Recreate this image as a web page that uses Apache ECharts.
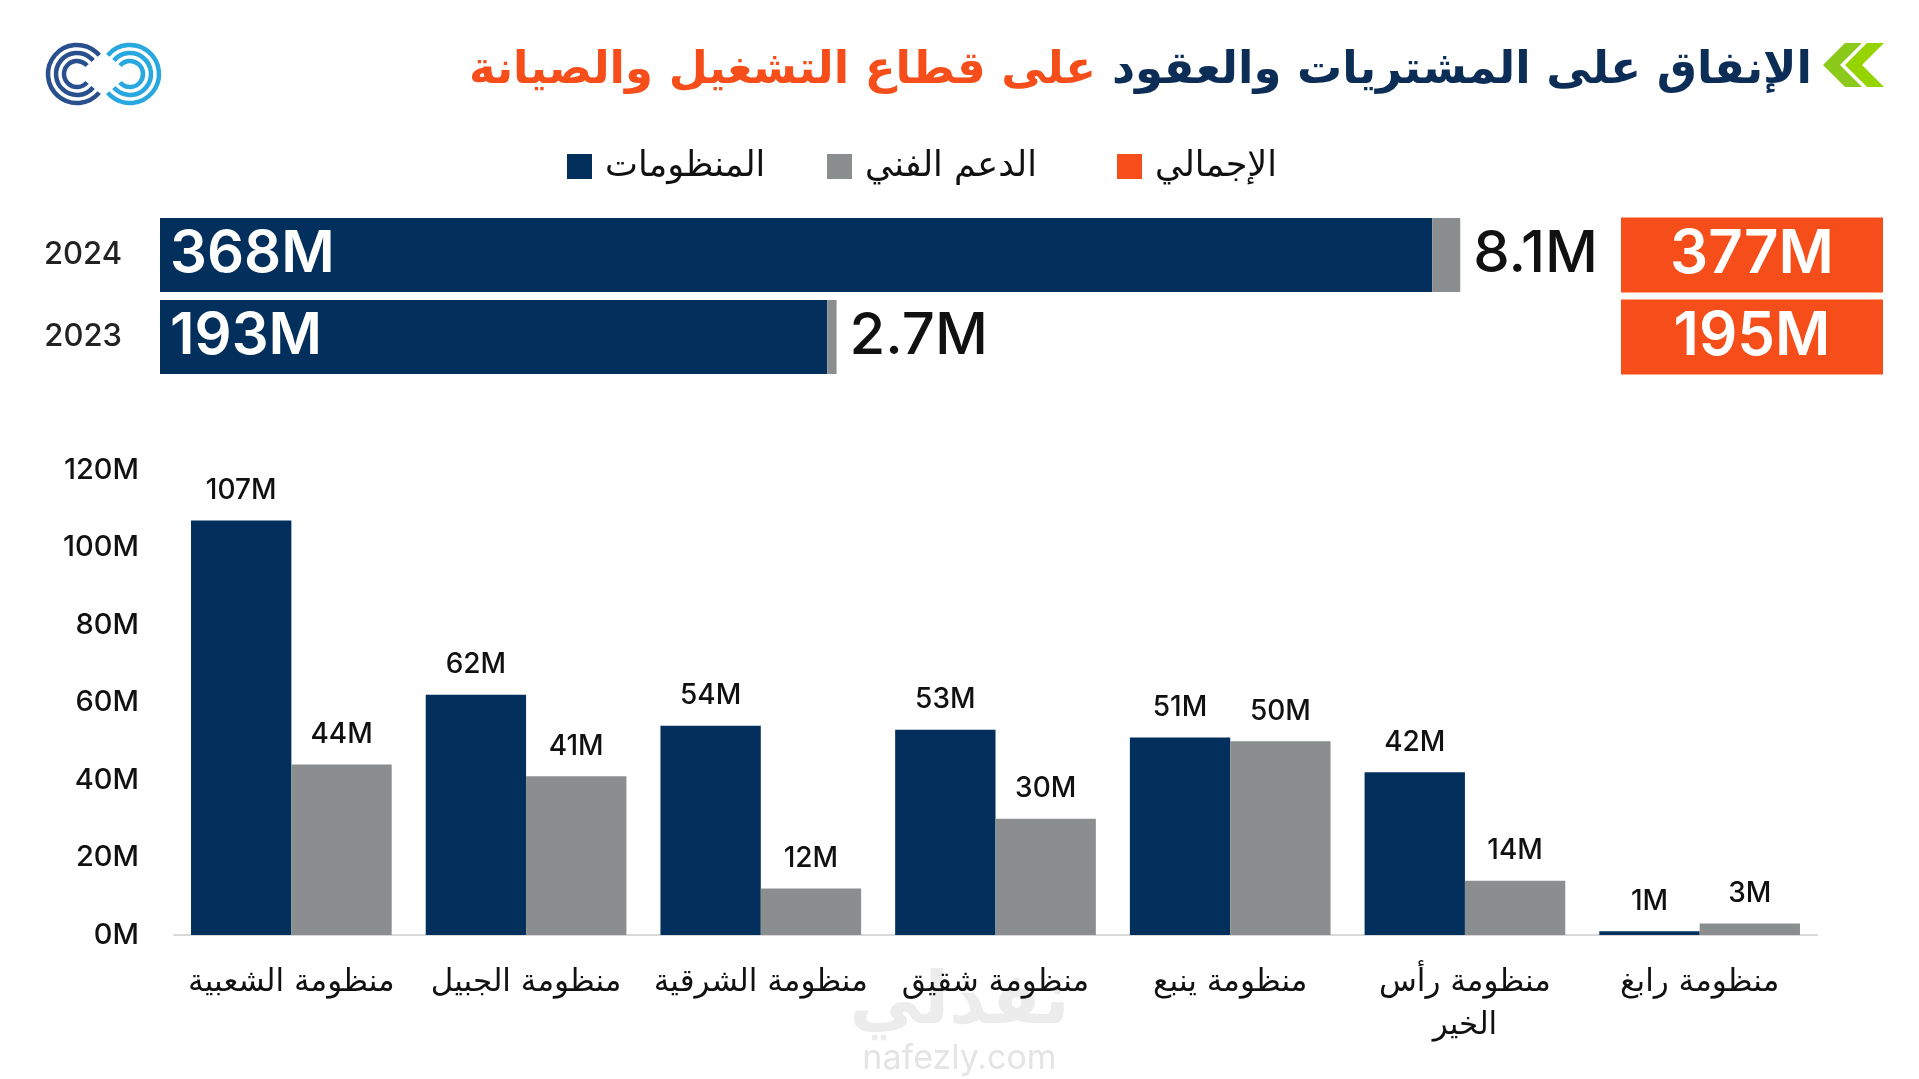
<!DOCTYPE html>
<html><head><meta charset="utf-8">
<script src="https://cdn.jsdelivr.net/npm/echarts@6/dist/echarts.min.js"></script>
<style>html,body{margin:0;padding:0;background:#fff}#c{width:1919px;height:1079px}</style>
</head><body><div id="c"></div>
<script>
// ---- data ----
const years = ['2024', '2023'];
const topSystems = [368, 193];      // المنظومات
const topSupport = [8.1, 2.7];      // الدعم الفني
const topTotals = [377, 195];       // الإجمالي
const categories = ['منظومة الشعبية', 'منظومة الجبيل', 'منظومة الشرقية', 'منظومة شقيق', 'منظومة ينبع', 'منظومة رأس الخير', 'منظومة رابغ'];
const sysValues = [107, 62, 54, 53, 51, 42, 1];
const supValues = [44, 41, 12, 30, 50, 14, 3];
const yTicks = [0, 20, 40, 60, 80, 100, 120];
const titleNavy = 'الإنفاق على المشتريات والعقود';
const titleOrange = 'على قطاع التشغيل والصيانة';
const legendNames = ['المنظومات', 'الدعم الفني', 'الإجمالي'];

const NAVY = '#022f5b', GREY = '#8b8e8f', ORANGE = '#f54e1b';
const NUM = 'Inter, "DejaVu Sans", sans-serif';
const AR = '"DejaVu Sans", sans-serif';

const chart = echarts.init(document.getElementById('c'), null, {renderer: 'canvas'});
const fmtM = p => p.value + 'M';

function logoArcs() {
  const els = [];
  const radii = [29, 21, 13];
  radii.forEach(r => {
    els.push({type: 'arc', shape: {cx: 77, cy: 74, r: r, startAngle: 40 * Math.PI / 180, endAngle: 320 * Math.PI / 180, clockwise: true},
      style: {stroke: '#2a4f8f', lineWidth: 4.5, fill: null}});
    els.push({type: 'arc', shape: {cx: 130, cy: 74, r: r, startAngle: 220 * Math.PI / 180, endAngle: 500 * Math.PI / 180, clockwise: true},
      style: {stroke: '#29a8e0', lineWidth: 4.5, fill: null}});
  });
  return els;
}

const option = {
  backgroundColor: '#fff',
  animation: false,
  title: {
    text: '{o|' + titleOrange + '}{s| }{n|' + titleNavy + '}',
    right: 102, top: 44,
    textStyle: {rich: {
      o: {color: ORANGE, fontSize: 45, fontWeight: 'bold', fontFamily: AR},
      s: {fontSize: 45, width: 16},
      n: {color: '#0c2d55', fontSize: 45, fontWeight: 'bold', fontFamily: AR}
    }}
  },
  legend: [0, 1, 2].map((i) => ({
    data: [{name: legendNames[i], itemStyle: {color: [NAVY, GREY, ORANGE][i]}}],
    left: [562, 822, 1112][i], top: 144,
    itemWidth: 25, itemHeight: 25, icon: 'rect',
    textStyle: {fontSize: 35, color: '#111', fontFamily: AR, padding: [0, 0, 0, 8]},
    selectedMode: false
  })),
  graphic: [
    ...logoArcs(),
    {type: 'polygon', shape: {points: [[1823, 65], [1845, 43], [1862, 43], [1840, 65], [1862, 87], [1845, 87]]}, style: {fill: '#8bc91a'}},
    {type: 'polygon', shape: {points: [[1845, 65], [1867, 43], [1884, 43], [1862, 65], [1884, 87], [1867, 87]]}, style: {fill: '#96d400'}},
    {type: 'text', left: 'center', top: 968, z: -1, style: {text: 'نفذلي', fontSize: 72, fontWeight: 'bold', fill: '#ececec', fontFamily: AR}},
    {type: 'text', left: 'center', top: 1042, z: -1, style: {text: 'nafezly.com', fontSize: 34, fill: '#e4e4e4', fontFamily: NUM}}
  ],
  grid: [
    {left: 160, top: 214, width: 1452, height: 164},
    {left: 174, top: 470, width: 1643, height: 465}
  ],
  xAxis: [
    {gridIndex: 0, type: 'value', min: 0, max: 420, show: false},
    {gridIndex: 1, type: 'category', data: categories,
      axisLine: {lineStyle: {color: '#d9d9d9', width: 2}}, axisTick: {show: false},
      axisLabel: {interval: 0, fontSize: 31, color: '#111', fontFamily: AR, margin: 26, lineHeight: 43,
        formatter: v => v.length > 15 ? v.slice(0, v.lastIndexOf(' ')) + '\n' + v.slice(v.lastIndexOf(' ') + 1) : v}}
  ],
  yAxis: [
    {gridIndex: 0, type: 'category', data: years, inverse: true,
      axisLine: {show: false}, axisTick: {show: false},
      axisLabel: {fontSize: 31, color: '#222', fontFamily: NUM, fontWeight: 500, margin: 38}},
    {gridIndex: 1, type: 'value', min: yTicks[0], max: yTicks[yTicks.length - 1], interval: yTicks[1] - yTicks[0],
      splitLine: {show: false}, axisLine: {show: false}, axisTick: {show: false},
      axisLabel: {fontSize: 29, color: '#111', fontFamily: NUM, fontWeight: 500, margin: 35, formatter: v => v + 'M'}}
  ],
  series: [
    {name: legendNames[0], type: 'bar', xAxisIndex: 0, yAxisIndex: 0, stack: 't', data: topSystems, barWidth: 74, barGap: '-100%',
      itemStyle: {color: NAVY},
      label: {show: true, position: 'insideLeft', distance: 10, formatter: fmtM, color: '#fff', fontSize: 58, fontWeight: 600, fontFamily: NUM}},
    {name: legendNames[1], type: 'bar', xAxisIndex: 0, yAxisIndex: 0, stack: 't', data: topSupport, barWidth: 74, barGap: '-100%',
      itemStyle: {color: GREY},
      label: {show: true, position: 'right', distance: 13, formatter: fmtM, color: '#111', fontSize: 58, fontWeight: 500, fontFamily: NUM}},
    {name: legendNames[2], type: 'bar', xAxisIndex: 0, yAxisIndex: 0, data: topTotals, barWidth: 74, barGap: '-100%', silent: true,
      itemStyle: {color: 'rgba(0,0,0,0)'},
      label: {show: true, position: [1592, 37], align: 'center', verticalAlign: 'middle', formatter: fmtM,
        color: '#fff', fontSize: 60, fontWeight: 600, fontFamily: NUM,
        backgroundColor: ORANGE, width: 262, lineHeight: 75}},
    {name: legendNames[0], type: 'bar', xAxisIndex: 1, yAxisIndex: 1, data: sysValues, barGap: 0, barCategoryGap: '14.5%',
      itemStyle: {color: NAVY},
      label: {show: true, position: 'top', distance: 16, formatter: fmtM, color: '#111', fontSize: 28, fontWeight: 500, fontFamily: NUM}},
    {name: legendNames[1], type: 'bar', xAxisIndex: 1, yAxisIndex: 1, data: supValues, barGap: 0, barCategoryGap: '14.5%',
      itemStyle: {color: GREY},
      label: {show: true, position: 'top', distance: 16, formatter: fmtM, color: '#111', fontSize: 28, fontWeight: 500, fontFamily: NUM}}
  ]
};
chart.setOption(option);
</script></body></html>
